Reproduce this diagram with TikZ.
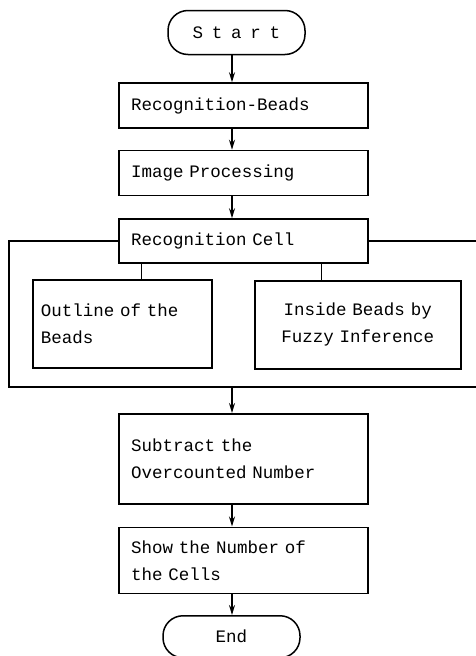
\documentclass[tikz,border=0pt]{standalone}
\usepackage{fontspec}
\setmonofont{Liberation Mono}
\usepackage{tikz}
\usetikzlibrary{positioning,arrows.meta}

\begin{document}
\begin{tikzpicture}[font=\ttfamily\fontsize{17.5}{27}\selectfont,>={Stealth[length=10pt,width=6pt]},line width=1.5pt,
 proc/.style={draw,align=left,inner xsep=12pt,inner ysep=0pt,text width=225pt,minimum width=249pt},
 sub/.style={draw,inner ysep=0pt,minimum height=88pt},
 term/.style={draw,rounded corners=20pt,minimum width=137pt,minimum height=44pt,inner sep=0pt}]
\useasboundingbox (0,0) rectangle (476pt,-656pt);
\coordinate (ax) at (232pt,0pt);
\node[term] (start) at (236.5pt,-32.5pt) {\addfontfeatures{LetterSpace=50}Start};
\node[proc,minimum height=45pt,below=27pt of start,xshift=7pt] (rb) {Recognition-Beads};
\node[proc,minimum height=45pt,below=21pt of rb] (ip) {Image Processing};
\node[proc,minimum height=44pt,below=22pt of ip] (cell) {Recognition Cell};
\node[sub,align=left,inner xsep=8pt,text width=163pt,anchor=north west] (outl) at (32pt,-279pt) {Outline of the\\Beads};
\node[sub,align=center,inner xsep=12pt,text width=182pt,anchor=north west] (insd) at (254pt,-280pt) {Inside Beads by\\Fuzzy Inference};
\coordinate (frm) at (9pt,-387pt);
\coordinate (edge) at (476pt,-387pt);
\node[proc,minimum height=90pt,anchor=north] (subt) at ([yshift=-26pt]frm -| rb) {Subtract the\\Overcounted Number};
\node[proc,minimum height=66pt,below=22pt of subt] (show) {Show the Number of\\the Cells};
\node[term,minimum height=42pt,below=21pt of show,xshift=-12pt] (end) {End};
% frame round the recognition step
\draw (cell.west) -| (frm) -- (edge);
\draw (cell.east) -- (cell.east -| edge);
\draw[line width=1pt] ([xshift=-102pt]cell.south) -- ([xshift=-102pt]cell.south |- outl.north);
\draw[line width=1pt] ([xshift=78pt]cell.south) -- ([xshift=78pt]cell.south |- insd.north);
% arrows
\draw[->] (ax |- start.south) -- (ax |- rb.north);
\draw[->] (ax |- rb.south) -- (ax |- ip.north);
\draw[->] (ax |- ip.south) -- (ax |- cell.north);
\draw[->] (ax |- frm) -- (ax |- subt.north);
\draw[->] (ax |- subt.south) -- (ax |- show.north);
\draw[->] (ax |- show.south) -- (ax |- end.north);
\end{tikzpicture}
\end{document}
